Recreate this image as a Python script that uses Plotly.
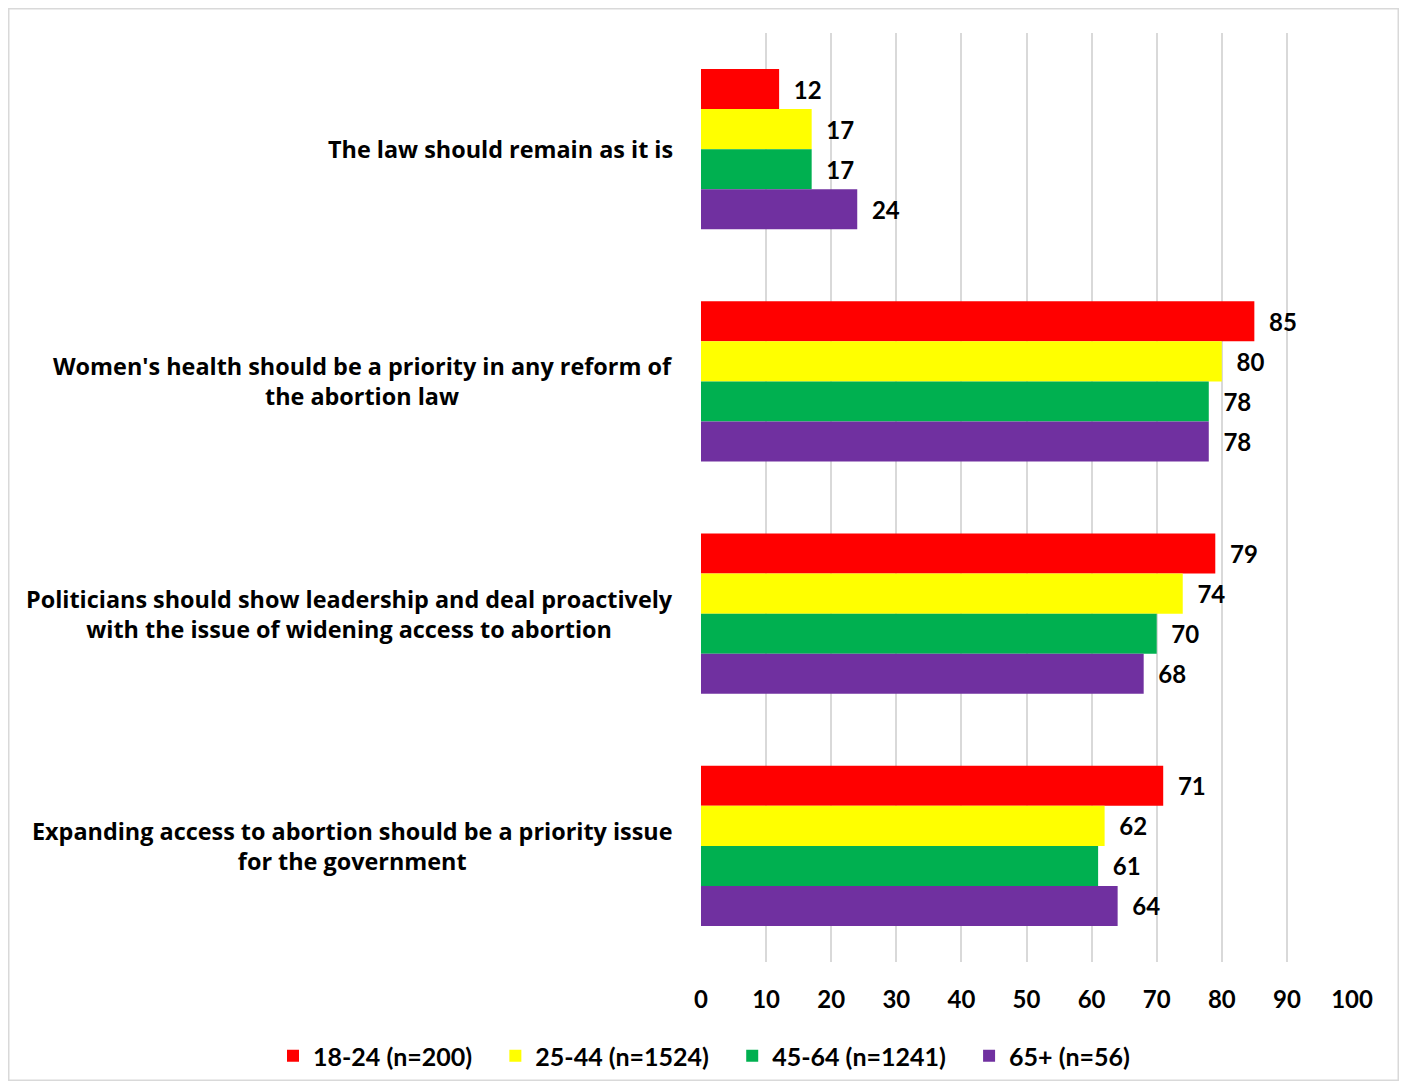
import plotly.graph_objects as go

categories = [
    "The law should remain as it is",
    "Women's health should be a priority in any reform of<br>the abortion law",
    "Politicians should show leadership and deal proactively<br>with the issue of widening access to abortion",
    "Expanding access to abortion should be a priority issue<br>for the government",
]
series_names = ["18-24 (n=200)", "25-44 (n=1524)", "45-64 (n=1241)", "65+ (n=56)"]
series_values = [
    [12, 85, 79, 71],
    [17, 80, 74, 62],
    [17, 78, 70, 61],
    [24, 78, 68, 64],
]
colors = ["#FF0000", "#FFFF00", "#00B050", "#7030A0"]
x_ticks = list(range(0, 101, 10))

NUMFONT = "Lato, Carlito, Calibri, sans-serif"
LABFONT = "Open Sans, Noto Sans, sans-serif"

W, H = 1391, 1073  # page body has 8px margin
ML, MR, MT, MB = 693, 47, 25, 119
PW, PH = W - ML - MR, H - MT - MB


def px_to_paper_x(p):
    return (p - ML) / PW


def px_to_paper_y(p):
    return 1 - (p - MT) / PH


fig = go.Figure()
for name, vals, col in zip(series_names, series_values, colors):
    fig.add_trace(go.Bar(
        y=categories, x=vals, name=name + "\u00a0\u00a0\u00a0", orientation="h",
        marker=dict(color=col, line=dict(width=0)),
        text=vals, texttemplate="\u00a0\u00a0%{x}", textposition="outside",
        textfont=dict(family=NUMFONT, size=24, color="black", weight="bold"),
        cliponaxis=False,
    ))

annotations = [
    dict(xref="paper", yref="y", x=0, y=c, xanchor="right", yanchor="middle",
         xshift=-26, text=c, showarrow=False, align="center",
         font=dict(family=LABFONT, size=23.4, color="black", weight="bold"))
    for c in categories
]

fig.update_layout(
    width=W, height=H,
    margin=dict(l=ML, r=MR, t=MT, b=MB, autoexpand=False),
    paper_bgcolor="white", plot_bgcolor="white",
    barmode="group", bargap=0.31, bargroupgap=0,
    font=dict(family=NUMFONT, size=24, color="black", weight="bold"),
    showlegend=True,
    legend=dict(orientation="h", xref="paper", yref="paper",
                x=px_to_paper_x(265), xanchor="left",
                y=px_to_paper_y(1048), yanchor="middle",
                font=dict(family=NUMFONT, size=25, color="black", weight="bold"),
                traceorder="normal"),
    annotations=annotations,
    shapes=[dict(type="rect", xref="paper", yref="paper",
                 x0=px_to_paper_x(0.75), x1=px_to_paper_x(1390.25),
                 y0=px_to_paper_y(1072.25), y1=px_to_paper_y(0.75),
                 line=dict(color="#d9d9d9", width=1.5), layer="below")],
)
fig.update_xaxes(range=[0, 100], tickvals=x_ticks, showgrid=True, gridcolor="#d9d9d9",
                 gridwidth=2, zeroline=False, showline=False, ticks="",
                 ticklabelstandoff=21,
                 tickfont=dict(family=NUMFONT, size=24, color="black", weight="bold"))
fig.update_yaxes(autorange="reversed", showgrid=False, showline=False, ticks="",
                 showticklabels=False)

fig.write_html("out.html")
